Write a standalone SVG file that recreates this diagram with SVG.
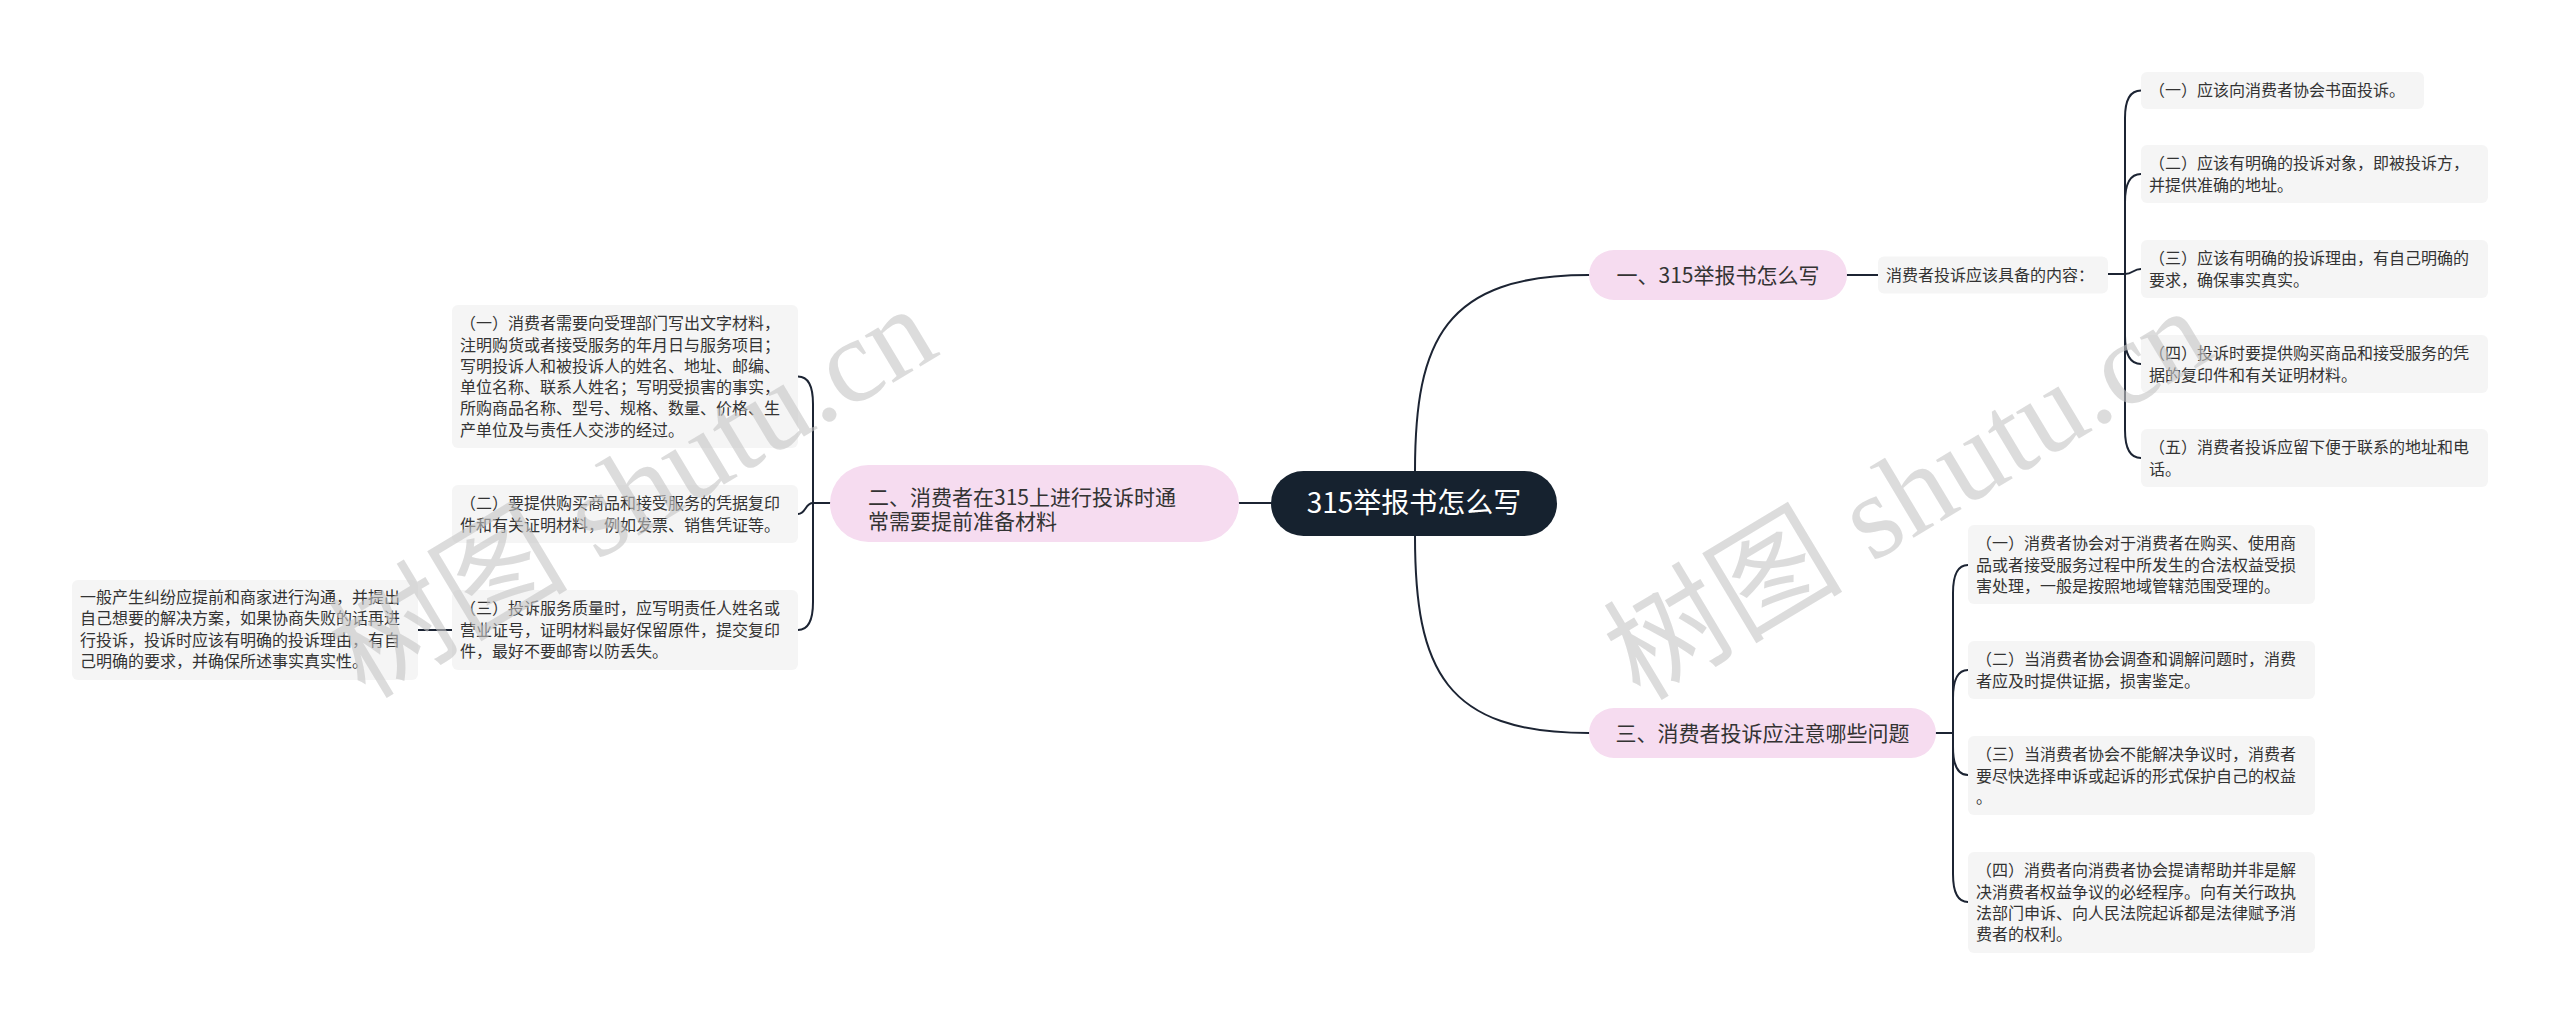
<svg xmlns="http://www.w3.org/2000/svg" width="2560" height="1024" viewBox="0 0 2560 1024">
<style>
.bg{fill:#ffffff}
.box{fill:#f5f5f5}
.pink{fill:#f6dcf0}
.root{fill:#16222f}
.t{font-family:"Noto Sans CJK SC","Noto Sans",sans-serif;font-size:16px;fill:#333333}
.pt{font-family:"Noto Sans CJK SC","Noto Sans",sans-serif;font-size:21px;fill:#333333}
.rt{font-family:"Noto Sans CJK SC","Noto Sans",sans-serif;font-size:28px;fill:#ffffff}
.ln{fill:none;stroke:#1c2433;stroke-width:2;stroke-linecap:round}
.wm{font-family:"Liberation Serif","Noto Sans CJK SC",serif;font-size:120px;fill:#c4c4c4;fill-opacity:0.6}
</style>
<rect class="bg" x="0" y="0" width="2560" height="1024"/>

<g id="connectors">
  <line class="ln" x1="1239" y1="503" x2="1271" y2="503"/>
  <path class="ln" d="M1415,471 C1415,340 1445,275 1589,275"/>
  <path class="ln" d="M1415,536 C1415,670 1445,733 1589,733"/>
  <line class="ln" x1="1847" y1="275" x2="1878" y2="275"/>
  <line class="ln" x1="1936" y1="733" x2="1953" y2="733"/>
  <path class="ln" d="M2108,274 H2125 V118 Q2125,90.5 2141,90.5"/>
  <path class="ln" d="M2108,274 H2125 V202 Q2125,174 2141,174"/>
  <path class="ln" d="M2108,274 H2125 C2133,274 2133,269 2141,269"/>
  <path class="ln" d="M2108,274 H2125 V336 Q2125,364 2141,364"/>
  <path class="ln" d="M2108,274 H2125 V430 Q2125,458 2141,458"/>
  <path class="ln" d="M1936,733 H1953 V593 Q1953,565 1968,565"/>
  <path class="ln" d="M1936,733 H1953 V698 Q1953,670 1968,670"/>
  <path class="ln" d="M1936,733 H1953 V747 Q1953,775 1968,775"/>
  <path class="ln" d="M1936,733 H1953 V874 Q1953,902 1968,902"/>
  <path class="ln" d="M830,503 H813 V404 Q813,376.5 798,376.5"/>
  <path class="ln" d="M830,503 H813 C805,503 806,514 798,514"/>
  <path class="ln" d="M830,503 H813 V602 Q813,630 798,630"/>
  <line class="ln" x1="418" y1="630" x2="452" y2="630"/>
</g>

<g id="root">
  <rect class="root" x="1271" y="471" width="286" height="65" rx="32.5"/>
  <text class="rt" x="1414" y="512.5" text-anchor="middle">315举报书怎么写</text>
</g>

<g id="branch1">
  <rect class="pink" x="1589" y="250" width="258" height="50" rx="25"/>
  <text class="pt" x="1718" y="282.5" text-anchor="middle">一、315举报书怎么写</text>
</g>

<g id="branch2">
  <rect class="pink" x="830" y="465" width="409" height="77" rx="38.5"/>
  <text class="pt" x="868" y="504.5">二、消费者在315上进行投诉时通</text>
  <text class="pt" x="868" y="528.5">常需要提前准备材料</text>
</g>

<g id="branch3">
  <rect class="pink" x="1589" y="708" width="347" height="50" rx="25"/>
  <text class="pt" x="1762.5" y="740.5" text-anchor="middle">三、消费者投诉应注意哪些问题</text>
</g>

<g id="content-node">
  <rect class="box" x="1878" y="256.5" width="230" height="37" rx="6"/>
  <text class="t" x="1886" y="280.7">消费者投诉应该具备的内容：</text>
</g>

<g id="t1">
  <rect class="box" x="2141" y="72" width="283" height="37" rx="6"/>
  <text class="t" x="2149" y="96.2">（一）应该向消费者协会书面投诉。</text>
</g>
<g id="t2">
  <rect class="box" x="2141" y="145" width="347" height="58" rx="6"/>
  <text class="t" x="2149" y="169.2">（二）应该有明确的投诉对象，即被投诉方，</text>
  <text class="t" x="2149" y="190.5">并提供准确的地址。</text>
</g>
<g id="t3">
  <rect class="box" x="2141" y="240" width="347" height="58" rx="6"/>
  <text class="t" x="2149" y="264.2">（三）应该有明确的投诉理由，有自己明确的</text>
  <text class="t" x="2149" y="285.5">要求，确保事实真实。</text>
</g>
<g id="t4">
  <rect class="box" x="2141" y="335" width="347" height="58" rx="6"/>
  <text class="t" x="2149" y="359.2">（四）投诉时要提供购买商品和接受服务的凭</text>
  <text class="t" x="2149" y="380.5">据的复印件和有关证明材料。</text>
</g>
<g id="t5">
  <rect class="box" x="2141" y="429" width="347" height="58" rx="6"/>
  <text class="t" x="2149" y="453.2">（五）消费者投诉应留下便于联系的地址和电</text>
  <text class="t" x="2149" y="474.5">话。</text>
</g>

<g id="b1">
  <rect class="box" x="1968" y="525" width="347" height="79" rx="6"/>
  <text class="t" x="1976" y="549.2">（一）消费者协会对于消费者在购买、使用商</text>
  <text class="t" x="1976" y="570.5">品或者接受服务过程中所发生的合法权益受损</text>
  <text class="t" x="1976" y="591.8">害处理，一般是按照地域管辖范围受理的。</text>
</g>
<g id="b2">
  <rect class="box" x="1968" y="641" width="347" height="58" rx="6"/>
  <text class="t" x="1976" y="665.2">（二）当消费者协会调查和调解问题时，消费</text>
  <text class="t" x="1976" y="686.5">者应及时提供证据，损害鉴定。</text>
</g>
<g id="b3">
  <rect class="box" x="1968" y="736" width="347" height="79" rx="6"/>
  <text class="t" x="1976" y="760.2">（三）当消费者协会不能解决争议时，消费者</text>
  <text class="t" x="1976" y="781.5">要尽快选择申诉或起诉的形式保护自己的权益</text>
  <text class="t" x="1976" y="802.8">。</text>
</g>
<g id="b4">
  <rect class="box" x="1968" y="852" width="347" height="101" rx="6"/>
  <text class="t" x="1976" y="876.2">（四）消费者向消费者协会提请帮助并非是解</text>
  <text class="t" x="1976" y="897.5">决消费者权益争议的必经程序。向有关行政执</text>
  <text class="t" x="1976" y="918.8">法部门申诉、向人民法院起诉都是法律赋予消</text>
  <text class="t" x="1976" y="940.1">费者的权利。</text>
</g>

<g id="l1">
  <rect class="box" x="452" y="305" width="346" height="143" rx="6"/>
  <text class="t" x="460" y="329.2">（一）消费者需要向受理部门写出文字材料，</text>
  <text class="t" x="460" y="350.5">注明购货或者接受服务的年月日与服务项目；</text>
  <text class="t" x="460" y="371.8">写明投诉人和被投诉人的姓名、地址、邮编、</text>
  <text class="t" x="460" y="393.1">单位名称、联系人姓名；写明受损害的事实，</text>
  <text class="t" x="460" y="414.4">所购商品名称、型号、规格、数量、价格、生</text>
  <text class="t" x="460" y="435.7">产单位及与责任人交涉的经过。</text>
</g>
<g id="l2">
  <rect class="box" x="452" y="485" width="346" height="58" rx="6"/>
  <text class="t" x="460" y="509.2">（二）要提供购买商品和接受服务的凭据复印</text>
  <text class="t" x="460" y="530.5">件和有关证明材料，例如发票、销售凭证等。</text>
</g>
<g id="l3">
  <rect class="box" x="452" y="590" width="346" height="80" rx="6"/>
  <text class="t" x="460" y="614.2">（三）投诉服务质量时，应写明责任人姓名或</text>
  <text class="t" x="460" y="635.5">营业证号，证明材料最好保留原件，提交复印</text>
  <text class="t" x="460" y="656.8">件，最好不要邮寄以防丢失。</text>
</g>
<g id="l3a">
  <rect class="box" x="72" y="580" width="346" height="100" rx="6"/>
  <text class="t" x="80" y="603">一般产生纠纷应提前和商家进行沟通，并提出</text>
  <text class="t" x="80" y="624.3">自己想要的解决方案，如果协商失败的话再进</text>
  <text class="t" x="80" y="645.6">行投诉，投诉时应该有明确的投诉理由，有自</text>
  <text class="t" x="80" y="666.9">己明确的要求，并确保所述事实真实性。</text>
</g>

<g id="watermarks">
  <text class="wm" transform="translate(365,700) rotate(-31)">树图 shutu.cn</text>
  <text class="wm" transform="translate(1640,702) rotate(-31)">树图 shutu.cn</text>
</g>
</svg>
